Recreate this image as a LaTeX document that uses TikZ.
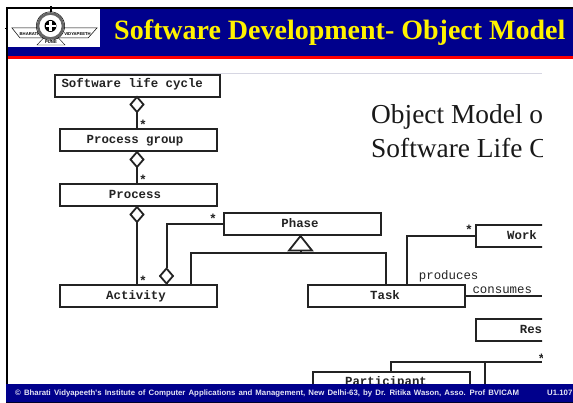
\documentclass[tikz,border=0pt]{standalone}
\usepackage{fontspec}
\setmainfont{Liberation Serif}
\newfontfamily\sansf{Liberation Sans}
\newfontfamily\monof{Liberation Mono}
\usetikzlibrary{shapes.geometric}
\definecolor{navy}{RGB}{0,0,140}
\definecolor{hair}{RGB}{214,214,226}
\definecolor{umlk}{RGB}{35,35,35}
\newcommand{\boxtxt}[2]{\mbox{#2\kern#1pt}}
\tikzset{
  x=1pt,y=-1pt,
  umlbox/.style={draw=umlk,line width=2pt,fill=white,minimum height=22pt,inner sep=0pt,outer sep=0pt,text height=8pt,text depth=0pt,font=\monof\bfseries\fontsize{12.4}{13}\selectfont,text=umlk},
  wide/.style={minimum width=157pt},
  conn/.style={draw=umlk,line width=2pt},
  agg/.style={shape=diamond,draw=umlk,line width=1.8pt,fill=white,minimum width=13pt,minimum height=15pt,inner sep=0pt,outer sep=0pt},
  gen/.style={shape=isosceles triangle,shape border rotate=90,isosceles triangle stretches,draw=umlk,line width=1.8pt,fill=white,minimum width=23pt,minimum height=14.5pt,inner sep=0pt,outer sep=0pt},
  mult/.style={font=\monof\bfseries\fontsize{13}{13}\selectfont,inner sep=0pt,text=umlk},
  rolelbl/.style={font=\monof\fontsize{12.4}{13}\selectfont,inner sep=0pt,text=umlk,anchor=base west},
  bigt/.style={font=\fontsize{27.4}{28}\selectfont,inner sep=0pt,anchor=base west,text=black!90},
  foot/.style={font=\sansf\bfseries\fontsize{7.8}{8}\selectfont,text=white!90!navy,inner sep=0pt,anchor=base west},
  logot/.style={font=\sansf\bfseries\fontsize{4.2}{5}\selectfont,inner sep=0pt,text=black},
}
\begin{document}
\begin{tikzpicture}
\useasboundingbox (0,0) rectangle (573,403);
\fill[white] (0,0) rectangle (573,403);
% diagram area, cut off at the right and by the footer
\begin{scope}
\clip (8,59) rectangle (542,384);
\draw[hair,line width=.7pt] (100,73.3) -- (542,73.3);
\node[bigt] (t1) at (371,124) {Object Model o};
\node[bigt] (t2) at (371,158) {Software Life C};
\node[umlbox,minimum width=165.5pt] (slc) at (137.25,86) {\raisebox{2.7pt}{\boxtxt{10}{Software life cycle}}};
\node[umlbox,wide] (pg) at (138,140) {\boxtxt{6}{Process group}};
\node[umlbox,wide] (proc) at (138,195.5) {\raisebox{.8pt}{\boxtxt{6}{Process}}};
\node[umlbox,wide] (act) at (138,296) {\boxtxt{4}{Activity}};
\node[umlbox,wide] (phase) at (302,224) {\boxtxt{4}{Phase}};
\node[umlbox,wide] (task) at (386,296) {\boxtxt{2}{Task}};
\node[umlbox,minimum width=92pt] (work) at (522,236) {Work};
\node[umlbox,minimum width=110pt] (res) at (531,330) {Res};
\node[umlbox,wide] (part) at (391.5,383) {\raisebox{1.3pt}{\boxtxt{11}{Participant}}};
% aggregation diamonds
\node[agg] (d1) at (137,104.5) {};
\node[agg] (d2) at (137,159.5) {};
\node[agg] (d3) at (137,214.5) {};
\node[agg] (d4) at (166.5,276) {};
\draw[conn] (d1.south) -- (d1.south |- pg.north);
\draw[conn] (d2.south) -- (d2.south |- proc.north);
\draw[conn] (d3.south) -- (d3.south |- act.north);
\draw[conn] (phase.west) -| (d4.north);
\draw[conn] (d4.south) -- (d4.south |- act.north);
% generalisation
\node[gen,anchor=apex] (tri) at (300.5,236) {};
\coordinate (genj) at (300.5,253.5);
\draw[conn] (tri.lower side) -- (genj);
\draw[conn] (190.5,285) |- (genj);
\draw[conn] (385.5,285) |- (genj);
% task relations
\coordinate (wk) at (407,236);
\draw[conn] (task.north -| wk) -- (wk) -- (work.west);
\coordinate (cons) at (542,296);
\draw[conn] (task.east) -- (cons);
\coordinate (j1) at (390.5,362);
\coordinate (j2) at (485,362);
\coordinate (j3) at (542,362);
\coordinate (j4) at (485,384);
\draw[conn] (part.north -| j1) -- (j1) -- (j3);
\draw[conn] (j2) -- (j4);
% labels
\node[mult] (s1) at (143,124.5) {*};
\node[mult] (s2) at (143,180) {*};
\node[mult] (s3) at (143,280.5) {*};
\node[mult] (s4) at (213,218.5) {*};
\node[mult] (s5) at (469,229.5) {*};
\node[mult] (s6) at (541.5,358.5) {*};
\node[rolelbl] (prod) at (418.7,280) {produces};
\node[rolelbl] (consl) at (472.3,294) {consumes};
\end{scope}
% frame, header and footer
\fill[black] (6,7) rectangle (573,9);
\fill[black] (6,7) rectangle (8,384);
\fill[navy] (8,9) rectangle (573,56);
\fill[red] (8,56) rectangle (573,59);
\fill[navy] (6,384) rectangle (573,402);
\fill[black!70!navy] (6,402) rectangle (573,403);
\node[font=\bfseries\fontsize{28}{30}\selectfont,text=yellow,inner sep=0pt,anchor=base west] (title) at (114,39.3) {Software Development- Object Model};
\node[foot] (ft) at (15,395.8) {\spaceskip=3.1pt plus 1pt © Bharati Vidyapeeth's Institute of Computer Applications and Management, New Delhi-63, by Dr. Ritika Wason, Asso. Prof BVICAM};
\node[foot] (pg107) at (547,395.8) {U1.107};
% logo
\fill[white] (8,9) rectangle (100,47);
\fill[black] (50.2,6) rectangle (51.6,12);
\fill[black] (5,28.2) rectangle (8,29);
\draw[black,line width=.5pt,fill=white] (12,28) -- (97,28) -- (88,38) -- (20,38) -- cycle;
\node[logot] (lg1) at (29,34) {BHARATI};
\node[logot] (lg2) at (77.5,34) {VIDYAPEETH};
\draw[black,line width=.4pt,fill=white] (37,45) -- (43,38.5) -- (59,38.5) -- (65,45) -- cycle;
\node[logot] (lg3) at (51,42) {PUNE};
\draw[black!60,line width=2.6pt,fill=white] (50.5,26) circle (12.5);
\draw[black,line width=.5pt] (50.5,26) circle (14.2);
\fill[black] (50.5,26) circle (6);
\fill[white] (49.3,21) rectangle (51.7,31);
\fill[white] (45.5,24.8) rectangle (55.5,27.2);
\end{tikzpicture}
\end{document}
